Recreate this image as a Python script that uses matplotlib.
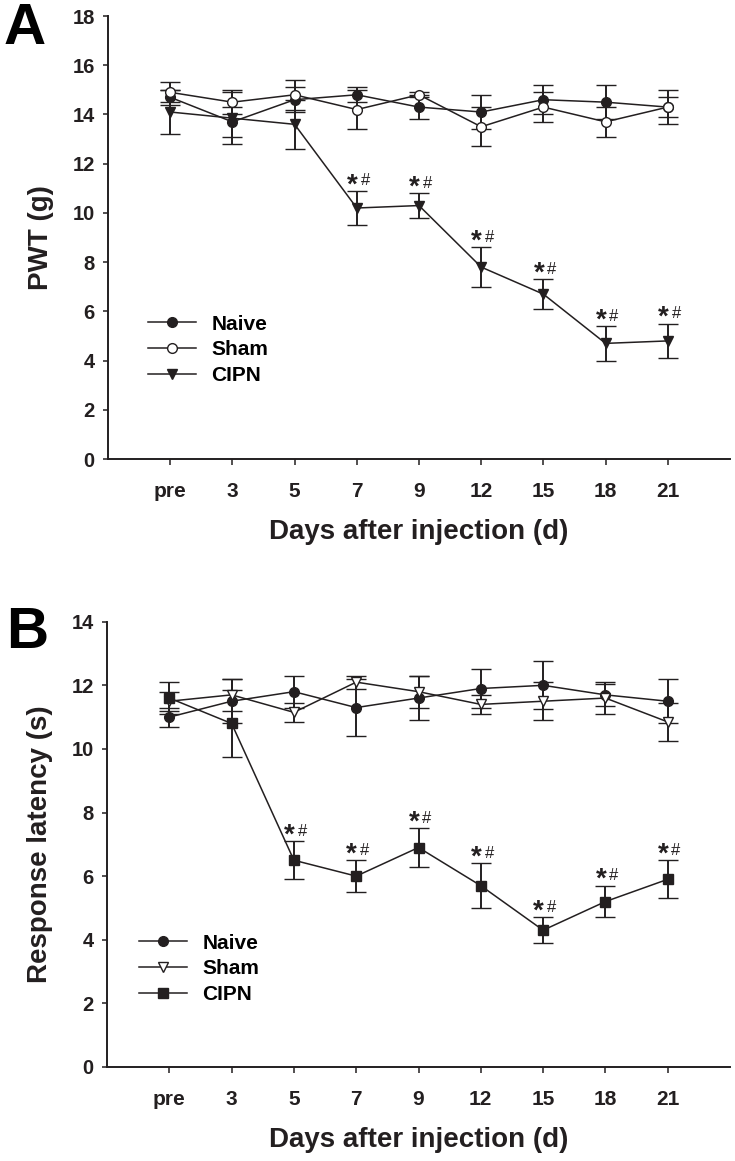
import matplotlib
matplotlib.use("Agg")
import matplotlib.pyplot as plt

plt.rcParams["font.family"] = ["Liberation Sans", "DejaVu Sans"]
plt.rcParams["font.weight"] = "bold"
INK = "#231f20"

days = ["pre", "3", "5", "7", "9", "12", "15", "18", "21"]

# panel A: paw withdrawal threshold (g)
naive_a = [14.7, 13.7, 14.6, 14.8, 14.3, 14.1, 14.6, 14.5, 14.3]
naive_a_err = [0.3, 0.6, 0.5, 0.3, 0.5, 0.7, 0.6, 0.7, 0.4]
sham_a = [14.9, 14.5, 14.8, 14.2, 14.8, 13.5, 14.3, 13.7, 14.3]
sham_a_err = [0.4, 0.5, 0.6, 0.8, 0.1, 0.8, 0.6, 0.6, 0.7]
cipn_a = [14.1, 13.85, 13.6, 10.2, 10.3, 7.8, 6.7, 4.7, 4.8]
cipn_a_err = [0.9, 1.05, 1.0, 0.7, 0.5, 0.8, 0.6, 0.7, 0.7]
sig_a = [3, 4, 5, 6, 7, 8]

# panel B: response latency (s)
naive_b = [11.0, 11.5, 11.8, 11.3, 11.6, 11.9, 12.0, 11.7, 11.5]
naive_b_err = [0.3, 0.7, 0.5, 0.9, 0.7, 0.6, 0.75, 0.35, 0.7]
sham_b = [11.5, 11.7, 11.15, 12.1, 11.8, 11.4, 11.5, 11.6, 10.85]
sham_b_err = [0.3, 0.5, 0.3, 0.2, 0.5, 0.3, 0.6, 0.5, 0.6]
cipn_b = [11.6, 10.8, 6.5, 6.0, 6.9, 5.7, 4.3, 5.2, 5.9]
cipn_b_err = [0.5, 1.05, 0.6, 0.5, 0.6, 0.7, 0.4, 0.5, 0.6]
sig_b = [2, 3, 4, 5, 6, 7, 8]

fig = plt.figure(figsize=(7.35, 11.61), dpi=100)
axA = fig.add_axes([0.1469, 0.6046, 0.8463, 0.3816])
axB = fig.add_axes([0.1456, 0.0810, 0.8476, 0.3835])


def panel(ax, series, ylim, ylabel, sig, leg_xy):
    x = list(range(len(days)))
    handles = []
    for vals, errs, mk, face, ms, lab in series:
        c = ax.errorbar(x, vals, yerr=errs, fmt="-", marker=mk, color=INK,
                        mfc=face, mec=INK, mew=1.0, ms=ms, lw=1.1,
                        elinewidth=1.4, capsize=7, capthick=1.4, label=lab)
        handles.append(c[0])
    cv, ce = series[-1][0], series[-1][1]
    for i in sig:
        top = cv[i] + ce[i]
        ax.annotate("*", (i, top), textcoords="offset points", xytext=(-3.3, -1),
                    ha="center", va="baseline", fontsize=20, fontweight="bold",
                    color=INK)
        ax.annotate("#", (i, top), textcoords="offset points", xytext=(6.0, 4.0),
                    ha="center", va="baseline", fontsize=12, fontweight="normal",
                    color=INK)
    ax.set_xlim(-1, 9)
    ax.set_ylim(*ylim)
    ax.set_yticks(range(0, ylim[1] + 1, 2))
    ax.set_xticks(x, days)
    for s in ("top", "right"):
        ax.spines[s].set_visible(False)
    for s in ("left", "bottom"):
        ax.spines[s].set_linewidth(1.4)
        ax.spines[s].set_color(INK)
    ax.tick_params(axis="y", length=3.5, width=1.1, pad=6, labelsize=14.5,
                   colors=INK)
    ax.tick_params(axis="x", length=4.5, width=1.1, pad=12, labelsize=15,
                   colors=INK)
    ax.set_ylabel(ylabel, fontsize=20, fontweight="bold", labelpad=13, color=INK)
    ax.set_xlabel("Days after injection (d)", fontsize=20, fontweight="bold",
                  labelpad=13, color=INK)
    ax.legend(handles, [s[-1] for s in series], loc="center left",
              bbox_to_anchor=leg_xy, bbox_transform=ax.transData,
              frameon=False, fontsize=15, handlelength=2.3, handletextpad=0.75,
              labelspacing=0.32, borderpad=0, borderaxespad=0)


panel(axA, [(naive_a, naive_a_err, "o", INK, 7, "Naive"),
            (sham_a, sham_a_err, "o", "white", 7, "Sham"),
            (cipn_a, cipn_a_err, "v", INK, 7, "CIPN")],
      (0, 18), "PWT (g)", sig_a, (-0.36, 4.44))
panel(axB, [(naive_b, naive_b_err, "o", INK, 7, "Naive"),
            (sham_b, sham_b_err, "v", "white", 7, "Sham"),
            (cipn_b, cipn_b_err, "s", INK, 6.5, "CIPN")],
      (0, 14), "Response latency (s)", sig_b, (-0.49, 3.09))

fig.text(0.005, 0.998, "A", fontsize=42, fontweight="bold", va="top", ha="left")
fig.text(0.009, 0.478, "B", fontsize=42, fontweight="bold", va="top", ha="left")

fig.savefig("out.png", dpi=100)
